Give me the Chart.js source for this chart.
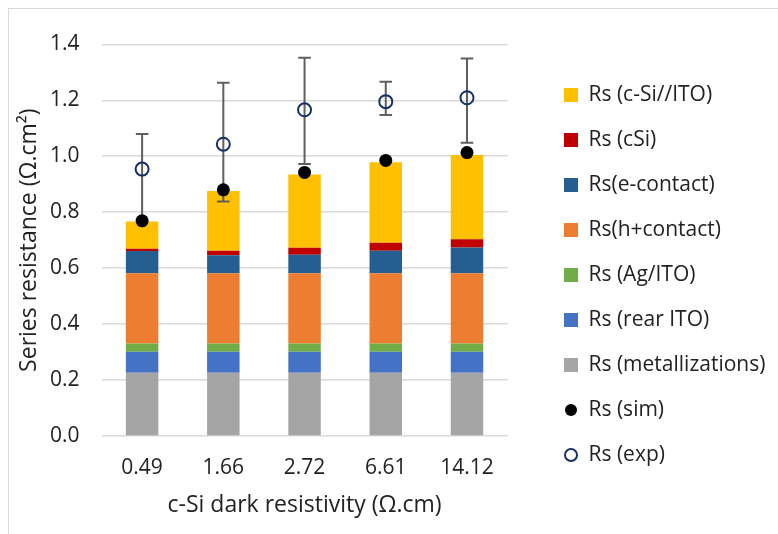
<!DOCTYPE html>
<html>
<head>
<meta charset="utf-8">
<script src="https://cdn.jsdelivr.net/npm/chart.js@4.4.1/dist/chart.umd.min.js"></script>
<style>
  html, body { margin: 0; padding: 0; background: #fff; }
  #wrap { position: relative; width: 778px; height: 534px; overflow: hidden; }
  #frame { position: absolute; left: 8px; top: 8px; right: -10px; bottom: -10px;
           border-left: 1px solid #d9d9d9; border-top: 1px solid #d9d9d9; pointer-events: none; }
  canvas { position: absolute; left: 0; top: 0; }
</style>
</head>
<body>
<div id="wrap">
  <canvas id="rsChart" width="778" height="534"></canvas>
  <div id="frame"></div>
</div>
<script>
"use strict";

// ── 数据 ─────────────────────────────────────────────
const resistivity = ["0.49", "1.66", "2.72", "6.61", "14.12"];
const rsMetal   = [0.226, 0.226, 0.226, 0.226, 0.226];
const rsRearIto = [0.075, 0.075, 0.075, 0.075, 0.075];
const rsAgIto   = [0.030, 0.030, 0.030, 0.030, 0.030];
const rsHole    = [0.251, 0.251, 0.251, 0.251, 0.251];
const rsElec    = [0.079, 0.064, 0.066, 0.080, 0.092];
const rsCSi     = [0.008, 0.016, 0.025, 0.029, 0.029];
const rsCSiIto  = [0.098, 0.214, 0.262, 0.287, 0.301];
const rsSim     = [0.769, 0.880, 0.942, 0.985, 1.013];
const rsExp     = [0.954, 1.043, 1.166, 1.195, 1.209];
const rsExpHigh = [1.079, 1.263, 1.352, 1.266, 1.349];
const rsExpLow  = [0.775, 0.838, 0.972, 1.147, 1.048];
const yTicks    = [0, 0.2, 0.4, 0.6, 0.8, 1.0, 1.2, 1.4];

const TXT = "#222";
const GRID = "#d9d9d9";
const FONT = "'Open Sans', 'Liberation Sans', sans-serif";
const LEG_SIZE = 21;
const LEG_PAD = 24;

// legend markers (small canvases used as point styles)
function marker(kind, color) {
  const c = document.createElement("canvas");
  c.width = 14; c.height = 14;
  const g = c.getContext("2d");
  if (kind === "rect") {
    g.fillStyle = color; g.fillRect(0, 0, 14, 14);
  } else if (kind === "dot") {
    g.fillStyle = color; g.beginPath(); g.arc(7, 7, 6, 0, Math.PI * 2); g.fill();
  } else {
    g.strokeStyle = color; g.lineWidth = 2; g.beginPath(); g.arc(7, 7, 6, 0, Math.PI * 2); g.stroke();
  }
  return c;
}

const bar = (label, data, color) => ({
  type: "bar", label, data, backgroundColor: color, stack: "rs", order: 3,
  categoryPercentage: 1, barPercentage: 0.4, borderWidth: 0,
});

const datasets = [
  bar("Rs (metallizations)", rsMetal, "#a5a5a5"),
  bar("Rs (rear ITO)", rsRearIto, "#4472c4"),
  bar("Rs (Ag/ITO)", rsAgIto, "#70ad47"),
  bar("Rs(h+contact)", rsHole, "#ed7d31"),
  bar("Rs(e-contact)", rsElec, "#255e91"),
  bar("Rs (cSi)", rsCSi, "#c00000"),
  bar("Rs (c-Si//ITO)", rsCSiIto, "#ffc000"),
  {
    type: "line", label: "Rs (sim)", data: rsSim, stack: "sim", order: 1, showLine: false,
    pointRadius: 6.5, pointHoverRadius: 6.5, pointBackgroundColor: "#000", pointBorderWidth: 0,
  },
  {
    type: "line", label: "Rs (exp)", data: rsExp, stack: "exp", order: 2, showLine: false,
    pointRadius: 6.5, pointHoverRadius: 6.5, pointBackgroundColor: "rgba(0,0,0,0)",
    pointBorderColor: "#17306a", pointBorderWidth: 2,
  },
];
const EXP_IDX = 8;

const legendOrder = [6, 5, 4, 3, 2, 1, 0, 7, 8];
const legendMarks = {
  0: marker("rect", "#a5a5a5"), 1: marker("rect", "#4472c4"), 2: marker("rect", "#70ad47"),
  3: marker("rect", "#ed7d31"), 4: marker("rect", "#255e91"), 5: marker("rect", "#c00000"),
  6: marker("rect", "#ffc000"), 7: marker("dot", "#000"), 8: marker("ring", "#17306a"),
};

// legend box geometry: plot right edge ~507.6, legend markers start ~564
const mctx = document.createElement("canvas").getContext("2d");
mctx.font = `${LEG_SIZE}px ${FONT}`;
const legTextW = Math.max(...datasets.map((d) => mctx.measureText(d.label).width));
const LEG_W = LEG_PAD + 14 + LEG_SIZE / 2 + legTextW + 10;
const LEG_LEFT = 564 - LEG_PAD;
const PAD_RIGHT = 778 - LEG_LEFT - LEG_W;

// ── 误差棒（画在 exp 圆圈之前）────────────────────────
const errorBars = {
  id: "errorBars",
  beforeDatasetDraw(chart, args) {
    if (args.index !== EXP_IDX) return;
    const { ctx } = chart;
    const xs = chart.scales.x, ys = chart.scales.y;
    ctx.save();
    ctx.strokeStyle = "#5f5f5f";
    ctx.lineWidth = 2;
    rsExp.forEach((v, i) => {
      const px = xs.getPixelForValue(i);
      const top = ys.getPixelForValue(rsExpHigh[i]);
      const bot = ys.getPixelForValue(rsExpLow[i]);
      ctx.beginPath();
      ctx.moveTo(px, top); ctx.lineTo(px, bot);
      ctx.moveTo(px - 6.3, top); ctx.lineTo(px + 6.3, top);
      ctx.moveTo(px - 6.3, bot); ctx.lineTo(px + 6.3, bot);
      ctx.stroke();
    });
    ctx.restore();
  },
};

Chart.defaults.font.family = FONT;
Chart.defaults.color = TXT;

new Chart(document.getElementById("rsChart"), {
  type: "bar",
  data: { labels: resistivity, datasets },
  options: {
    responsive: false,
    animation: false,
    layout: { padding: { top: 44.3, bottom: 28.3, left: 0, right: PAD_RIGHT } },
    plugins: {
      tooltip: { enabled: false },
      legend: {
        position: "right",
        maxWidth: LEG_W + 1,
        labels: {
          usePointStyle: true,
          boxWidth: 14,
          boxHeight: 14,
          padding: LEG_PAD,
          font: { size: LEG_SIZE },
          generateLabels: () => legendOrder.map((i) => ({
            text: datasets[i].label,
            pointStyle: legendMarks[i],
            fontColor: TXT,
            datasetIndex: i,
            hidden: false,
            lineWidth: 0,
          })),
        },
      },
    },
    scales: {
      x: {
        stacked: true,
        grid: { display: false },
        border: { display: false },
        ticks: { padding: 11, font: { size: 21 }, color: TXT },
        title: {
          display: true, text: "c-Si dark resistivity (Ω.cm)",
          font: { size: 23 }, color: TXT, padding: { top: 0, bottom: -14 },
        },
        afterFit: (s) => { s.height = 69.7; },
      },
      y: {
        stacked: true,
        min: 0, max: 1.4,
        afterBuildTicks: (s) => { s.ticks = yTicks.map((v) => ({ value: v })); },
        grid: { color: GRID, lineWidth: 1.5, drawTicks: false },
        border: { display: false },
        ticks: { padding: 22, font: { size: 21 }, color: TXT, callback: (v) => Number(v).toFixed(1) },
        title: {
          display: true, text: "Series resistance (Ω.cm²)",
          font: { size: 23 }, color: TXT, padding: { top: 16, bottom: 0 },
        },
        afterFit: (s) => { s.width = 101.5; },
      },
      y2: {
        type: "linear", position: "right", min: 0, max: 1,
        grid: { display: false }, border: { display: false }, ticks: { display: false },
        afterFit: (s) => { s.width = LEG_LEFT - 507.6; },
      },
    },
  },
  plugins: [errorBars],
});
</script>
</body>
</html>
